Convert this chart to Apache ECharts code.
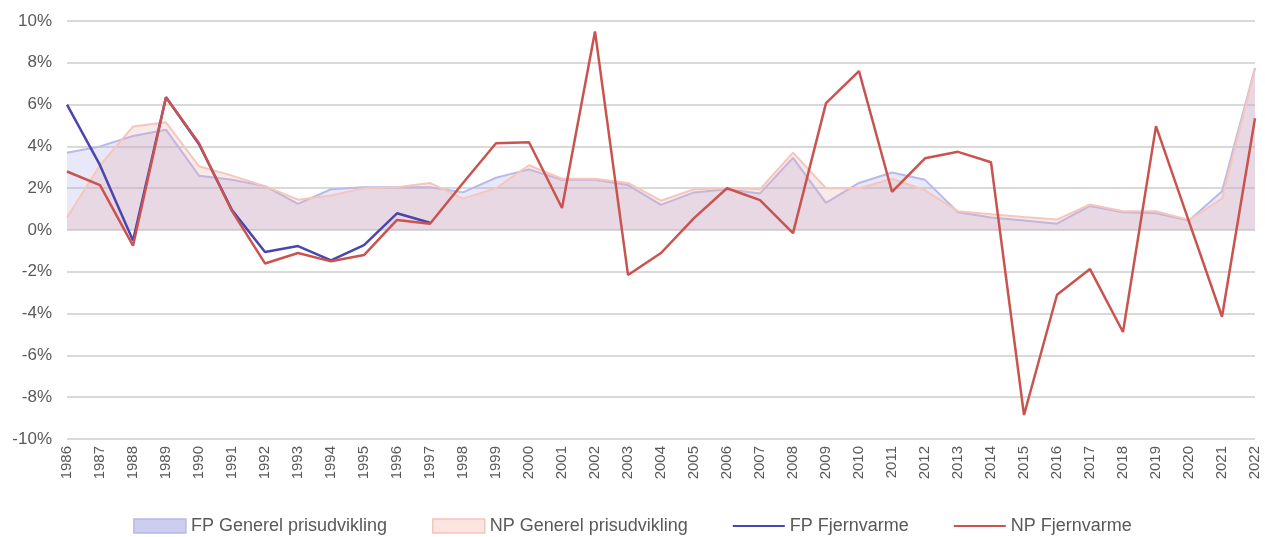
<!DOCTYPE html>
<html>
<head>
<meta charset="utf-8">
<script src="https://cdn.jsdelivr.net/npm/echarts@6/dist/echarts.min.js"></script>
<style>
  html, body { margin: 0; padding: 0; background: #fff; }
  #chart { width: 1265px; height: 537px; }
</style>
</head>
<body>
<div id="chart"></div>
<script>
const years = ["1986","1987","1988","1989","1990","1991","1992","1993","1994","1995","1996","1997","1998","1999","2000","2001","2002","2003","2004","2005","2006","2007","2008","2009","2010","2011","2012","2013","2014","2015","2016","2017","2018","2019","2020","2021","2022"];

const fpGenerel = [3.7, 4.0, 4.5, 4.8, 2.6, 2.4, 2.1, 1.25, 1.95, 2.05, 2.05, 2.05, 1.8, 2.5, 2.9, 2.4, 2.4, 2.15, 1.2, 1.8, 1.95, 1.75, 3.45, 1.3, 2.25, 2.75, 2.4, 0.85, 0.6, 0.45, 0.3, 1.15, 0.85, 0.8, 0.45, 1.85, 7.75];

const npGenerel = [0.6, 3.1, 4.95, 5.15, 3.05, 2.6, 2.1, 1.45, 1.65, 2.0, 2.05, 2.25, 1.5, 2.0, 3.1, 2.45, 2.45, 2.25, 1.4, 1.95, 2.0, 1.95, 3.7, 2.0, 2.0, 2.45, 1.9, 0.9, 0.75, 0.62, 0.5, 1.22, 0.9, 0.9, 0.48, 1.5, 7.7];

const fpFjernvarme = [6.0, 3.1, -0.5, 6.35, 4.1, 0.95, -1.05, -0.77, -1.45, -0.72, 0.8, 0.35];

const npFjernvarme = [2.8, 2.15, -0.75, 6.35, 4.15, 0.9, -1.6, -1.1, -1.5, -1.2, 0.48, 0.3, 2.25, 4.15, 4.2, 1.05, 9.5, -2.15, -1.1, 0.57, 2.0, 1.43, -0.15, 6.07, 7.6, 1.83, 3.43, 3.74, 3.24, -8.85, -3.1, -1.87, -4.88, 4.97, 0.4, -4.15, 5.35];

const yTicks = { min: -10, max: 10, step: 2 };

const chart = echarts.init(document.getElementById("chart"));

const labelColor = "#595959";
const font = "'Liberation Sans', Arial, sans-serif";
const lineIcon = "path://M0,0 L100,0 L100,4 L0,4 Z";

chart.setOption({
  animation: false,
  backgroundColor: "#fff",
  textStyle: { fontFamily: font },
  grid: { left: 67, right: 10, top: 21, bottom: 98 },
  legend: {
    top: 512,
    left: "center",
    itemWidth: 52,
    itemHeight: 14,
    itemGap: 45,
    textStyle: { color: labelColor, fontSize: 18, fontFamily: font },
    data: [
      { name: "FP Generel prisudvikling", icon: "rect", itemStyle: { color: "rgba(205,205,240,1)", borderColor: "#b8b8e8", borderWidth: 1.5 } },
      { name: "NP Generel prisudvikling", icon: "rect", itemStyle: { color: "rgba(252,228,224,1)", borderColor: "#f5c4ba", borderWidth: 1.5 } },
      { name: "FP Fjernvarme", icon: lineIcon, itemStyle: { color: "#4b45b0" } },
      { name: "NP Fjernvarme", icon: lineIcon, itemStyle: { color: "#c9544f" } }
    ]
  },
  xAxis: {
    type: "category",
    data: years,
    boundaryGap: false,
    axisLine: { show: false },
    axisTick: { show: false },
    axisLabel: { rotate: 90, color: labelColor, fontSize: 15, margin: 7, interval: 0, fontFamily: font }
  },
  yAxis: {
    type: "value",
    min: yTicks.min,
    max: yTicks.max,
    interval: yTicks.step,
    axisLine: { show: false },
    axisTick: { show: false },
    splitLine: { lineStyle: { color: "#d9d9d9", width: 2 } },
    axisLabel: { formatter: "{value}%", color: labelColor, fontSize: 17, margin: 15, fontFamily: font }
  },
  series: [
    {
      name: "FP Generel prisudvikling",
      type: "line",
      data: fpGenerel,
      symbol: "none",
      lineStyle: { color: "#b9b9ea", width: 2 },
      itemStyle: { color: "#b9b9ea" },
      areaStyle: { color: "rgba(170,170,230,0.38)", origin: 0 },
      z: 1
    },
    {
      name: "NP Generel prisudvikling",
      type: "line",
      data: npGenerel,
      symbol: "none",
      lineStyle: { color: "#f6c6bc", width: 2 },
      itemStyle: { color: "#f6c6bc" },
      areaStyle: { color: "rgba(232,170,170,0.35)", origin: 0 },
      z: 2
    },
    {
      name: "FP Fjernvarme",
      type: "line",
      data: fpFjernvarme,
      symbol: "none",
      lineStyle: { color: "#4b45b0", width: 2.5 },
      itemStyle: { color: "#4b45b0" },
      z: 3
    },
    {
      name: "NP Fjernvarme",
      type: "line",
      data: npFjernvarme,
      symbol: "none",
      lineStyle: { color: "#c9544f", width: 2.5 },
      itemStyle: { color: "#c9544f" },
      z: 4
    }
  ]
});
</script>
</body>
</html>
